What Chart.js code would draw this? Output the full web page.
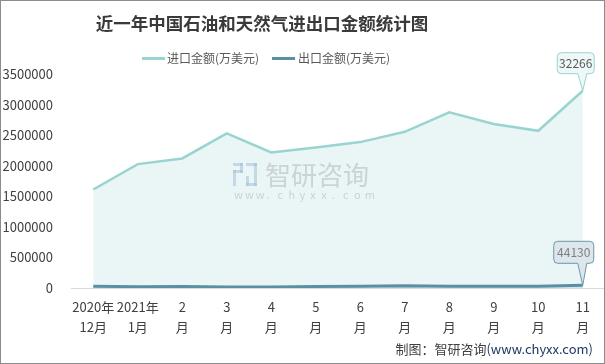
<!DOCTYPE html>
<html><head><meta charset="utf-8">
<script src="https://cdn.jsdelivr.net/npm/chart.js@4.4.1/dist/chart.umd.min.js"></script>
<style>html,body{margin:0;padding:0;background:#fff}#wrap{width:605px;height:364px;position:relative;box-sizing:border-box}canvas{display:block}</style>
</head><body><div id="wrap"><canvas id="c" width="605" height="364"></canvas></div>
<script>
const categories = [['2020年','12月'],['2021年','1月'],['2','月'],['3','月'],['4','月'],['5','月'],['6','月'],['7','月'],['8','月'],['9','月'],['10','月'],['11','月']];
const importValues = [1611000, 2026000, 2119000, 2529000, 2217000, 2296000, 2386000, 2555000, 2873000, 2681000, 2571000, 3226600];
const exportValues = [28000, 22000, 25000, 18000, 17000, 26000, 27000, 38000, 30000, 27000, 29000, 44130];
const seriesNames = ['进口金额(万美元)', '出口金额(万美元)'];
const lastPointLabels = ['32266', '44130'];
const yTicks = [0, 500000, 1000000, 1500000, 2000000, 2500000, 3000000, 3500000];
const titleText = '近一年中国石油和天然气进出口金额统计图';
const footerText = ['制图：智研咨询', '(www.chyxx.com)'];

const FONT = '"Noto Sans CJK SC","Noto Sans",sans-serif';
const importColor = '#9ad4d0';
const exportColor = '#5b8fa3';

function callout(ctx, pt, text, dx, w, h, gap, fill, stroke, color) {
  const cx = pt.x + dx, bottom = pt.y - gap, top = bottom - h, left = cx - w / 2;
  const r = 4;
  ctx.save();
  ctx.beginPath();
  ctx.moveTo(left + r, top);
  ctx.lineTo(left + w - r, top); ctx.quadraticCurveTo(left + w, top, left + w, top + r);
  ctx.lineTo(left + w, bottom - r); ctx.quadraticCurveTo(left + w, bottom, left + w - r, bottom);
  ctx.lineTo(pt.x + 4, bottom);
  ctx.lineTo(pt.x, pt.y);
  ctx.lineTo(pt.x - 5, bottom);
  ctx.lineTo(left + r, bottom); ctx.quadraticCurveTo(left, bottom, left, bottom - r);
  ctx.lineTo(left, top + r); ctx.quadraticCurveTo(left, top, left + r, top);
  ctx.closePath();
  ctx.fillStyle = fill; ctx.fill();
  ctx.lineWidth = 1; ctx.strokeStyle = stroke; ctx.stroke();
  ctx.fillStyle = color; ctx.font = '12px ' + FONT;
  ctx.textAlign = 'center'; ctx.textBaseline = 'middle';
  ctx.fillText(text, cx, top + h / 2 + 0.5);
  ctx.restore();
}

const decor = {
  id: 'decor',
  beforeDraw(chart) {
    const ctx = chart.ctx;
    ctx.save();
    ctx.fillStyle = '#fff'; ctx.fillRect(0, 0, chart.width, chart.height);
    ctx.restore();
  },
  afterDatasetsDraw(chart) {
    const ctx = chart.ctx;
    ctx.save();
    ctx.globalAlpha = 0.5;
    ctx.fillStyle = '#9fb9d8';
    ctx.fillRect(233, 163, 10, 3); ctx.fillRect(240, 163, 3, 10); ctx.fillRect(233, 170, 10, 3);
    ctx.fillRect(233, 170, 3, 16); ctx.fillRect(246, 163, 11, 3); ctx.fillRect(254, 163, 3, 23);
    ctx.fillRect(246, 176, 3, 10); ctx.fillRect(246, 183, 11, 3);
    ctx.fillStyle = '#aab0b5';
    ctx.font = '26px ' + FONT; ctx.textBaseline = 'middle'; ctx.textAlign = 'left';
    ctx.fillText('智研咨询', 265, 175);
    ctx.font = '11px ' + FONT;
    const wm = 'www.chyxx.com';
    let x = 234;
    for (const ch of wm) { ctx.fillText(ch, x, 195); x += 10.9; }
    ctx.restore();

    const m0 = chart.getDatasetMeta(0), m1 = chart.getDatasetMeta(1);
    const p0 = m0.data[m0.data.length - 1], p1 = m1.data[m1.data.length - 1];
    callout(ctx, p0, lastPointLabels[0], -7, 37, 21, 17, '#eef8f8', '#9ad4d0', '#595959');
    callout(ctx, p1, lastPointLabels[1], -9, 40, 22, 22, '#dde6ec', '#6f97a8', '#7f7f7f');
  },
  afterDraw(chart) {
    const ctx = chart.ctx;
    ctx.save();
    ctx.fillStyle = '#3a3a3a';
    ctx.font = 'bold 17.5px ' + FONT;
    ctx.textAlign = 'center'; ctx.textBaseline = 'middle';
    ctx.fillText(titleText, 262, 23);
    const ds = chart.data.datasets;
    const items = [{ x: 142, tx: 167 }, { x: 272, tx: 298 }];
    ctx.font = '12px ' + FONT; ctx.textAlign = 'left';
    items.forEach((it, i) => {
      ctx.fillStyle = ds[i].borderColor;
      ctx.fillRect(it.x, 57, 23, 3);
      ctx.fillStyle = '#595959';
      ctx.fillText(ds[i].label, it.tx, 58.5);
    });
    ctx.font = '13px ' + FONT; ctx.textAlign = 'left';
    const w1 = ctx.measureText(footerText[0]).width;
    const w2 = ctx.measureText(footerText[1]).width;
    const start = 593 - w1 - w2;
    ctx.fillStyle = '#404040'; ctx.fillText(footerText[0], start, 349);
    ctx.fillStyle = '#203864'; ctx.fillText(footerText[1], start + w1, 349);
    ctx.strokeStyle = '#8c8c8c'; ctx.lineWidth = 1;
    ctx.strokeRect(0.5, 0.5, chart.width - 1, chart.height - 1);
    ctx.restore();
  }
};

new Chart(document.getElementById('c'), {
  type: 'line',
  data: {
    labels: categories,
    datasets: [
      { label: seriesNames[0], data: importValues, borderColor: importColor, backgroundColor: '#eaf6f6', fill: 'origin', borderWidth: 2.5, pointRadius: 0, tension: 0, order: 2 },
      { label: seriesNames[1], data: exportValues, borderColor: exportColor, backgroundColor: 'rgba(91,143,163,0.15)', fill: 'origin', borderWidth: 3, pointRadius: 0, tension: 0, order: 1 }
    ]
  },
  options: {
    responsive: false,
    animation: false,
    layout: { padding: { top: 74, left: 0, right: 0, bottom: 18 } },
    plugins: { legend: { display: false }, title: { display: false }, tooltip: { enabled: false } },
    scales: {
      x: {
        offset: true,
        grid: { display: false, drawTicks: false },
        border: { display: false },
        ticks: { color: '#404040', font: { family: FONT, size: 13, lineHeight: '20px' }, padding: 9, maxRotation: 0, autoSkip: false }
      },
      y: {
        min: 0, max: 3500000,
        afterBuildTicks(scale) { scale.ticks = yTicks.map(v => ({ value: v })); },
        afterFit(scale) { scale.width = 71; },
        grid: { drawTicks: false, color: ctx => (ctx.tick && ctx.tick.value === 0) ? '#d9d9d9' : 'rgba(0,0,0,0)' },
        border: { display: false },
        ticks: { color: '#404040', font: { family: FONT, size: 13 }, padding: 18, callback: v => String(v) }
      }
    }
  },
  plugins: [decor]
});
</script></body></html>
